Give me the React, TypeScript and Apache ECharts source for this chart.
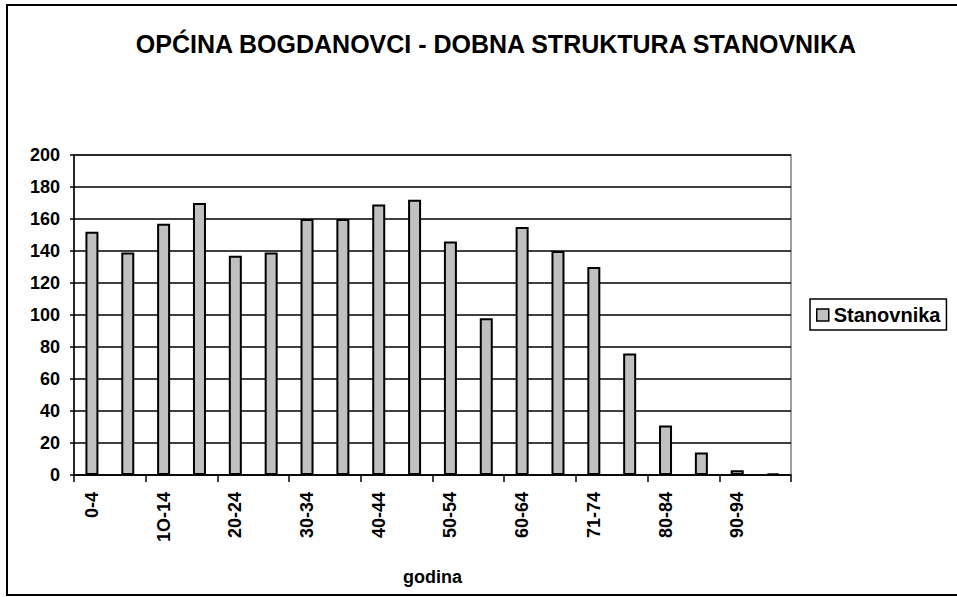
import React, { useEffect, useRef } from "react";
import * as echarts from "echarts";

const title = "OPĆINA BOGDANOVCI - DOBNA STRUKTURA STANOVNIKA";
const categories = [
  "0-4", "5-9", "1O-14", "15-19", "20-24", "25-29", "30-34", "35-39", "40-44", "45-49",
  "50-54", "55-59", "60-64", "65-70", "71-74", "75-79", "80-84", "85-89", "90-94", "95+",
];
const stanovnika = [152, 139, 157, 170, 137, 139, 160, 160, 169, 172, 146, 98, 155, 140, 130, 76, 31, 14, 3, 1];
const seriesName = "Stanovnika";
const xAxisName = "godina";

const FONT = "'Liberation Sans', Arial, sans-serif";

export default function App() {
  const ref = useRef<HTMLDivElement>(null);
  useEffect(() => {
    if (!ref.current) return;
    const chart = echarts.init(ref.current, null, { renderer: "svg" });
    chart.setOption({
      animation: false,
      backgroundColor: "#fff",
      textStyle: { fontFamily: FONT },
      title: {
        text: title,
        left: 491,
        top: 26,
        textAlign: "center",
        textStyle: { fontFamily: FONT, fontSize: 25, fontWeight: "bold", color: "#000" },
      },
      graphic: [
        {
          type: "rect",
          shape: { x: 7, y: 5, width: 970, height: 590 },
          style: { fill: "none", stroke: "#000", lineWidth: 2 },
          silent: true,
          z: 100,
        },
      ],
      legend: {
        left: 810,
        top: 299,
        orient: "vertical",
        padding: [6, 6, 5, 6],
        borderColor: "#000",
        borderWidth: 1.5,
        itemWidth: 12,
        itemHeight: 12,
        itemGap: 5,
        icon: "rect",
        itemStyle: { color: "#C0C0C0", borderColor: "#000", borderWidth: 1.5 },
        textStyle: { fontFamily: FONT, fontSize: 20, fontWeight: "bold", color: "#000" },
        data: [seriesName],
      },
      grid: {
        left: 74,
        right: 957 - 791,
        top: 155,
        bottom: 597 - 475,
        show: true,
        borderColor: "#808080",
        borderWidth: 1.5,
      },
      xAxis: {
        type: "category",
        data: categories,
        name: xAxisName,
        nameLocation: "middle",
        nameGap: 93,
        nameTextStyle: { fontFamily: FONT, fontSize: 18, fontWeight: "bold", color: "#000" },
        axisLine: { lineStyle: { color: "#000", width: 1.5 } },
        axisTick: { show: true, length: 7, lineStyle: { color: "#000", width: 1.5 } },
        axisLabel: {
          interval: 1,
          rotate: 90,
          margin: 17,
          fontFamily: FONT,
          fontSize: 18,
          fontWeight: "bold",
          color: "#000",
        },
      },
      yAxis: {
        type: "value",
        min: 0,
        max: 200,
        interval: 20,
        axisLine: { show: true, lineStyle: { color: "#000", width: 1.5 } },
        axisTick: { show: true, length: 4, lineStyle: { color: "#000", width: 1.5 } },
        axisLabel: {
          margin: 14,
          fontFamily: FONT,
          fontSize: 18,
          fontWeight: "bold",
          color: "#000",
        },
        splitLine: { show: true, lineStyle: { color: "#000", width: 1.6 } },
      },
      series: [
        {
          name: seriesName,
          type: "bar",
          data: stanovnika,
          barWidth: 13,
          itemStyle: { color: "#C0C0C0", borderColor: "#000", borderWidth: 2 },
        },
      ],
    });
    return () => chart.dispose();
  }, []);
  return (
    <div
      ref={ref}
      style={{ position: "absolute", left: 0, top: 0, width: 957, height: 597, background: "#fff" }}
    />
  );
}
